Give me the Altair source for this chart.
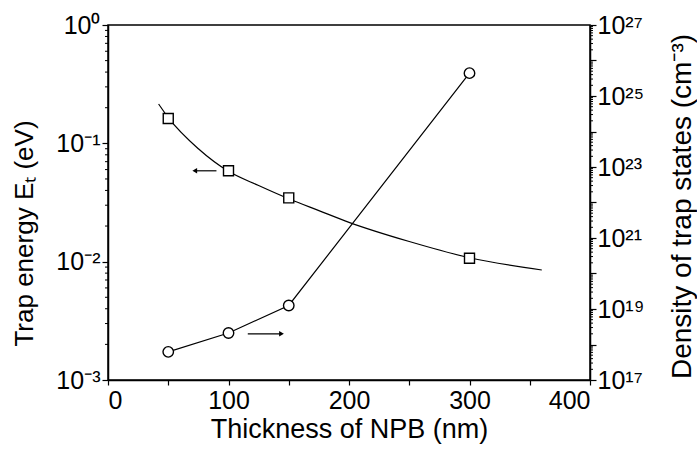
import altair as alt
import pandas as pd

# ---- data ----
thickness = [50, 100, 150, 300]
trap_energy = [0.162, 0.0586, 0.0346, 0.0107]          # left axis (eV)
trap_density = [6.2e17, 2.1e18, 1.26e19, 4.4e25]       # right axis (cm^-3)

fit_x = [42, 50, 75, 100, 125, 150, 175, 200, 250, 300, 360]
fit_e = [0.215, 0.165, 0.09, 0.058, 0.044, 0.034, 0.027, 0.0215, 0.0148, 0.0108, 0.0085]

arrow_left_x = [90, 72]
arrow_left_y = [0.0586, 0.0586]
arrow_right_x = [116, 144]
arrow_right_y = [2.0e18, 2.0e18]

left_decades = [-3, -2, -1, 0]
right_decades = list(range(17, 28))
right_labelled = [17, 19, 21, 23, 25, 27]
x_ticks = [0, 50, 100, 150, 200, 250, 300, 350, 400]

FONT = "Liberation Sans"
SUP = str.maketrans("0123456789-", "⁰¹²³⁴⁵⁶⁷⁸⁹⁻")


def label_expr(exps, labelled):
    expr = "''"
    for e in exps:
        lab = ("10" + str(e).translate(SUP)) if e in labelled else ""
        expr = f"(round(log(datum.value)/LN10) == {e} ? '{lab}' : {expr})"
    return expr


left_minor = [m * 10.0 ** k for k in range(-3, 0) for m in range(2, 10)]
right_minor = [m * 10.0 ** k for k in range(17, 27) for m in range(2, 10)]

xs = alt.Scale(domain=[0, 400], nice=False, zero=False)
ys_l = alt.Scale(type="log", domain=[1e-3, 1], nice=False)
ys_r = alt.Scale(type="log", domain=[1e17, 1e27], nice=False)

x_axis = alt.Axis(values=x_ticks, labelExpr="datum.value % 100 == 0 ? datum.label : ''",
                  title="Thickness of NPB (nm)", tickSize=5, labelPadding=3, titlePadding=3,
                  titleFontSize=27)

df_fit = pd.DataFrame({"x": fit_x, "y": fit_e})
df_sq = pd.DataFrame({"x": thickness, "y": trap_energy})
df_circ = pd.DataFrame({"x": thickness, "y": trap_density})
df_al = pd.DataFrame({"x": arrow_left_x, "y": arrow_left_y})
df_ar = pd.DataFrame({"x": arrow_right_x, "y": arrow_right_y})
df_lmin = pd.DataFrame({"y": left_minor})
df_rmin = pd.DataFrame({"y": right_minor})

left_axis = alt.Axis(values=[10.0 ** e for e in left_decades],
                     labelExpr=label_expr(left_decades, left_decades),
                     title="Trap energy Eₜ (eV)", tickSize=6, labelPadding=2,
                     titleAngle=270, titleX=-84, titleY=208, titleAlign="center",
                     titleBaseline="middle", titleFontSize=26)
right_axis = alt.Axis(values=[10.0 ** e for e in right_decades], orient="right",
                      labelExpr=label_expr(right_decades, right_labelled),
                      title="Density of trap states (cm⁻³)", tickSize=6, labelPadding=1,
                      titleAngle=270, titleX=92, titleY=181, titleAlign="center",
                      titleBaseline="middle", titleFontSize=28)

X = alt.X("x:Q", scale=xs, axis=x_axis)
YL = alt.Y("y:Q", scale=ys_l, axis=left_axis)
YR = alt.Y("y:Q", scale=ys_r, axis=right_axis)

fit_line = alt.Chart(df_fit).mark_line(color="black", strokeWidth=1.2, interpolate="monotone").encode(x=X, y=YL)
squares = alt.Chart(df_sq).mark_point(shape="square", size=100, filled=True, fill="white",
                                      stroke="black", strokeWidth=1.4, opacity=1).encode(x=X, y=YL)
arrow_l = alt.Chart(df_al).mark_line(color="black", strokeWidth=1.2).encode(x=X, y=YL)
arrow_l_head = alt.Chart(df_al.iloc[[1]]).mark_point(shape="triangle-left", size=30, filled=True,
                                                    color="black", opacity=1).encode(x=X, y=YL)
minor_l = alt.Chart(df_lmin).mark_rule(color="black", strokeWidth=1).encode(
    y=YL, x=alt.value(0), x2=alt.value(-3))

circ_line = alt.Chart(df_circ).mark_line(color="black", strokeWidth=1.2).encode(x=X, y=YR)
circles = alt.Chart(df_circ).mark_point(shape="circle", size=110, filled=True, fill="white",
                                        stroke="black", strokeWidth=1.4, opacity=1).encode(x=X, y=YR)
arrow_r = alt.Chart(df_ar).mark_line(color="black", strokeWidth=1.2).encode(x=X, y=YR)
arrow_r_head = alt.Chart(df_ar.iloc[[1]]).mark_point(shape="triangle-right", size=30, filled=True,
                                                    color="black", opacity=1).encode(x=X, y=YR)
minor_r = alt.Chart(df_rmin).mark_rule(color="black", strokeWidth=1).encode(
    y=YR, x=alt.value(482), x2=alt.value(485))

left = alt.layer(fit_line, arrow_l, arrow_l_head, minor_l, squares)
right = alt.layer(circ_line, arrow_r, arrow_r_head, minor_r, circles)

chart = alt.layer(left, right).resolve_scale(y="independent").properties(
    width=482, height=355,
    autosize=alt.AutoSizeParams(type="none"),
    padding={"left": 108, "top": 25, "right": 107, "bottom": 73},
    background="white",
).configure_view(stroke="black", strokeWidth=1.5).configure_axis(
    labelFont=FONT, titleFont=FONT, labelFontSize=25,
    labelColor="black", titleColor="black", domainColor="black", tickColor="black",
    domainWidth=1.5, tickWidth=1.2, grid=False, titleFontWeight="normal",
)

chart.save("out.html", embed_options={"renderer": "svg", "actions": False})
